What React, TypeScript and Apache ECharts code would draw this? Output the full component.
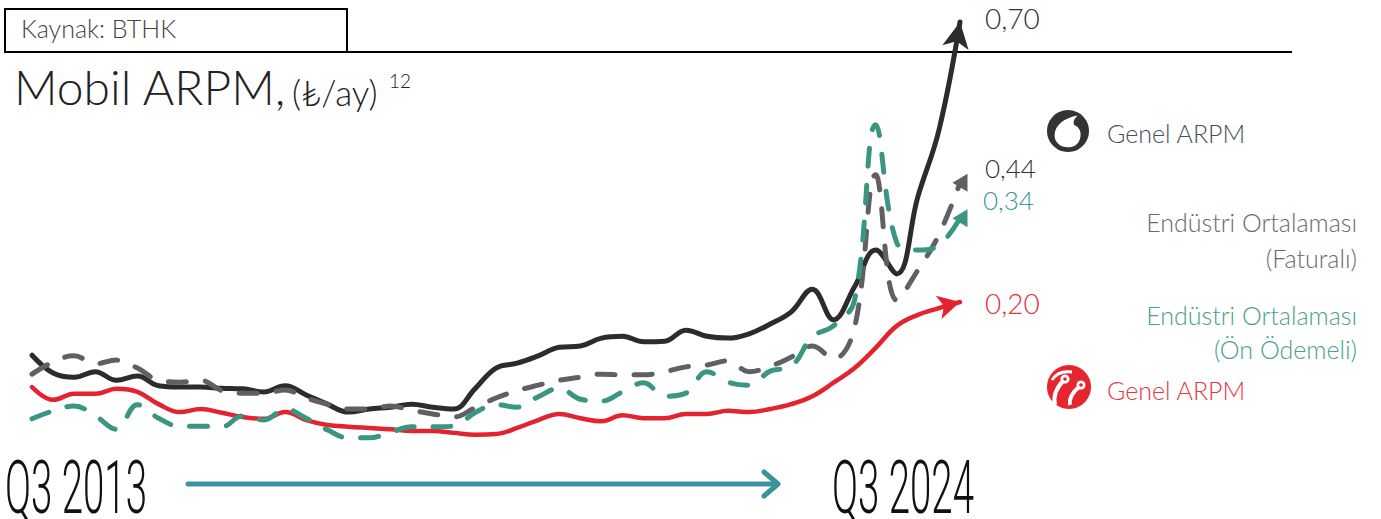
import React, { useEffect, useRef } from 'react';
import * as echarts from 'echarts';

const categories = [
  'Q3 2013', 'Q4 2013',
  'Q1 2014', 'Q2 2014', 'Q3 2014', 'Q4 2014',
  'Q1 2015', 'Q2 2015', 'Q3 2015', 'Q4 2015',
  'Q1 2016', 'Q2 2016', 'Q3 2016', 'Q4 2016',
  'Q1 2017', 'Q2 2017', 'Q3 2017', 'Q4 2017',
  'Q1 2018', 'Q2 2018', 'Q3 2018', 'Q4 2018',
  'Q1 2019', 'Q2 2019', 'Q3 2019', 'Q4 2019',
  'Q1 2020', 'Q2 2020', 'Q3 2020', 'Q4 2020',
  'Q1 2021', 'Q2 2021', 'Q3 2021', 'Q4 2021',
  'Q1 2022', 'Q2 2022', 'Q3 2022', 'Q4 2022',
  'Q1 2023', 'Q2 2023', 'Q3 2023', 'Q4 2023',
  'Q1 2024', 'Q2 2024', 'Q3 2024',
];

// Vodafone – Genel ARPM (₺/ay)
const vodafone = [
  0.155, 0.126, 0.119, 0.128, 0.114, 0.121, 0.105, 0.103, 0.103, 0.101,
  0.100, 0.095, 0.105, 0.090, 0.075, 0.062, 0.067, 0.070, 0.075, 0.070,
  0.067, 0.100, 0.134, 0.142, 0.154, 0.168, 0.170, 0.183, 0.186, 0.177,
  0.178, 0.196, 0.186, 0.183, 0.190, 0.206, 0.226, 0.263, 0.213, 0.267,
  0.327, 0.288, 0.414, 0.523, 0.700,
];

// Turkcell – Genel ARPM (₺/ay)
const turkcell = [
  0.103, 0.082, 0.092, 0.092, 0.100, 0.095, 0.075, 0.062, 0.067, 0.061,
  0.054, 0.051, 0.062, 0.049, 0.041, 0.038, 0.036, 0.034, 0.031, 0.031,
  0.028, 0.025, 0.026, 0.036, 0.049, 0.059, 0.052, 0.047, 0.057, 0.052,
  0.052, 0.059, 0.059, 0.064, 0.062, 0.067, 0.075, 0.088, 0.110, 0.134,
  0.167, 0.203, 0.221, 0.232, 0.242,
];

// Endüstri Ortalaması (Faturalı)
const postpaidAvg = [
  0.124, 0.144, 0.154, 0.141, 0.147, 0.134, 0.114, 0.111, 0.114, 0.097,
  0.093, 0.093, 0.098, 0.085, 0.075, 0.067, 0.067, 0.072, 0.065, 0.059,
  0.054, 0.069, 0.085, 0.097, 0.106, 0.114, 0.119, 0.124, 0.123, 0.123,
  0.128, 0.136, 0.139, 0.146, 0.128, 0.137, 0.152, 0.170, 0.149, 0.200,
  0.450, 0.245, 0.294, 0.352, 0.437,
];

// Endüstri Ortalaması (Ön Ödemeli)
const prepaidAvg = [
  0.051, 0.064, 0.072, 0.056, 0.034, 0.074, 0.052, 0.039, 0.039, 0.038,
  0.056, 0.049, 0.067, 0.052, 0.033, 0.020, 0.020, 0.029, 0.038, 0.038,
  0.039, 0.061, 0.074, 0.070, 0.087, 0.101, 0.083, 0.080, 0.095, 0.110,
  0.088, 0.093, 0.128, 0.111, 0.106, 0.129, 0.137, 0.185, 0.203, 0.245,
  0.532, 0.339, 0.327, 0.335, 0.379,
];

const endLabels = ['0,70', '0,44', '0,34', '0,20'];
const startLabel = 'Q3 2013';
const endLabel = 'Q3 2024';

const C_BLACK = '#2c2c2c';
const C_RED = '#e3242f';
const C_GRAY = '#606062';
const C_TEAL = '#3a9683';
const C_TEAL_BLUE = '#3b95a3';

const FONT = "Lato, 'Noto Sans', 'DejaVu Sans', sans-serif";

// Vodafone speech mark
echarts.graphic.registerShape(
  'vfMark',
  echarts.graphic.extendPath(
    'M -11 3 C -11 -6 -3 -12 8 -14 C 5 -11 4 -9 5 -6 C 10 -4 11 1 10 5 C 9 10 5 13 0 13 C -6 13 -11 9 -11 3 Z',
    {}
  )
);

function withEnd(values: number[], end: any) {
  return values.map((v, i) => (i === values.length - 1 ? { value: v, ...end } : v));
}

function txt(text: string, x: number, y: number, size: number, fill: string, align = 'left', lineHeight?: number) {
  return {
    type: 'text',
    x,
    y,
    style: {
      text,
      fill,
      font: `300 ${size}px ${FONT}`,
      lineHeight: lineHeight || Math.round(size * 1.2),
      align,
      textAlign: align,
      verticalAlign: 'middle',
      textVerticalAlign: 'middle',
    },
  };
}

function tallText(text: string, x: number, y: number) {
  return {
    type: 'text', x, y, scaleX: 0.62, scaleY: 1.21,
    style: {
      text, fill: '#111', font: `300 62px Roboto, ${FONT}`, lineHeight: 46,
      align: 'left', textAlign: 'left', verticalAlign: 'middle', textVerticalAlign: 'middle',
    },
  };
}

const dashed = [18, 19];

const option: any = {
  animation: false,
  backgroundColor: '#ffffff',
  grid: { left: 32, right: 421, top: 22, bottom: 69 },
  xAxis: { type: 'category', data: categories, boundaryGap: false, show: false },
  yAxis: { type: 'value', min: 0, max: 0.7, show: false },
  series: [
    {
      name: 'Vodafone Genel ARPM',
      type: 'line',
      data: withEnd(vodafone, { symbol: 'arrow', symbolSize: [20, 26], symbolRotate: -10 }),
      smooth: 0.4,
      symbol: 'none',
      showSymbol: true,
      showAllSymbol: true,
      clip: false,
      z: 2,
      lineStyle: { color: C_BLACK, width: 5, cap: 'round', join: 'round' },
      itemStyle: { color: C_BLACK },
    },
    {
      name: 'Turkcell Genel ARPM',
      type: 'line',
      data: withEnd(turkcell, { symbol: 'arrow', symbolSize: [18, 22], symbolRotate: -76 }),
      smooth: 0.4,
      symbol: 'none',
      showSymbol: true,
      showAllSymbol: true,
      clip: false,
      z: 2,
      lineStyle: { color: C_RED, width: 4.5, cap: 'round', join: 'round' },
      itemStyle: { color: C_RED },
    },
    {
      name: 'Endüstri Ortalaması (Faturalı)',
      type: 'line',
      data: withEnd(postpaidAvg, { symbol: 'triangle', symbolSize: [18, 15], symbolRotate: 90 }),
      smooth: 0.4,
      symbol: 'none',
      showSymbol: true,
      showAllSymbol: true,
      clip: false,
      z: 3,
      lineStyle: { color: C_GRAY, width: 5, type: dashed, cap: 'round', join: 'round' },
      itemStyle: { color: C_GRAY },
    },
    {
      name: 'Endüstri Ortalaması (Ön Ödemeli)',
      type: 'line',
      data: withEnd(prepaidAvg, { symbol: 'triangle', symbolSize: [18, 15], symbolRotate: 90 }),
      smooth: 0.4,
      symbol: 'none',
      showSymbol: true,
      showAllSymbol: true,
      clip: false,
      z: 4,
      lineStyle: { color: C_TEAL, width: 5, type: dashed, cap: 'round', join: 'round' },
      itemStyle: { color: C_TEAL },
    },
  ],
  graphic: [
    // source box & rule
    { type: 'rect', shape: { x: 5, y: 9, width: 342, height: 43 }, style: { fill: 'none', stroke: '#000', lineWidth: 2 } },
    { type: 'line', shape: { x1: 347, y1: 52, x2: 1292, y2: 52 }, style: { stroke: '#000', lineWidth: 2 } },
    txt('Kaynak: BTHK', 21, 28, 25, '#444444'),
    // title
    txt('Mobil ARPM,', 14, 86, 48, '#222222'),
    txt('(₺/ay)', 292, 92, 35, '#222222'),
    txt('12', 389, 80, 19, '#222222'),
    // end values
    txt(endLabels[0], 985, 18, 28, '#333333', 'left', 26),
    txt(endLabels[1], 985, 168, 26, '#333333', 'left', 24),
    txt(endLabels[2], 983, 200, 26, C_TEAL_BLUE, 'left', 24),
    txt(endLabels[3], 985, 303, 28, '#e8323c', 'left', 26),
    // legend: Vodafone
    { type: 'circle', shape: { cx: 1068, cy: 131, r: 21 }, style: { fill: '#333333' } },
    { type: 'vfMark', x: 1068, y: 132, scaleX: 1.22, scaleY: 1.18, style: { fill: '#ffffff' } },
    txt('Genel ARPM', 1107, 133, 25, '#4b4f58'),
    txt('Endüstri Ortalaması', 1357, 222, 25, '#6a6a6a', 'right'),
    txt('(Faturalı)', 1357, 258, 25, '#6a6a6a', 'right'),
    txt('Endüstri Ortalaması', 1357, 315, 25, '#4aa08b', 'right'),
    txt('(Ön Ödemeli)', 1357, 349, 25, '#4aa08b', 'right'),
    // legend: Turkcell
    { type: 'circle', shape: { cx: 1069, cy: 387, r: 22 }, style: { fill: '#e5262f' } },
    { type: 'bezierCurve', shape: { x1: 1055, y1: 405, cpx1: 1052, cpy1: 392, x2: 1064, y2: 380 }, style: { stroke: '#fff', lineWidth: 4, fill: 'none' } },
    { type: 'bezierCurve', shape: { x1: 1070, y1: 405, cpx1: 1068, cpy1: 396, x2: 1080, y2: 386 }, style: { stroke: '#fff', lineWidth: 4, fill: 'none' } },
    { type: 'bezierCurve', shape: { x1: 1052, y1: 380, cpx1: 1058, cpy1: 370, x2: 1072, y2: 372 }, style: { stroke: '#fff', lineWidth: 3, fill: 'none' } },
    { type: 'circle', shape: { cx: 1065, cy: 379, r: 4.5 }, style: { fill: '#fff' } },
    { type: 'circle', shape: { cx: 1065, cy: 379, r: 1.8 }, style: { fill: '#e5262f' } },
    { type: 'circle', shape: { cx: 1081, cy: 385, r: 4.5 }, style: { fill: '#fff' } },
    { type: 'circle', shape: { cx: 1081, cy: 385, r: 1.8 }, style: { fill: '#e5262f' } },
    txt('Genel ARPM', 1107, 390, 25, '#e8363f'),
    // timeline
    tallText(startLabel, 5, 488),
    tallText(endLabel, 832, 488),
    { type: 'line', shape: { x1: 188, y1: 484, x2: 776, y2: 484 }, style: { stroke: '#3b929f', lineWidth: 5, lineCap: 'round' } },
    {
      type: 'polyline',
      shape: { points: [[764, 472], [778, 484], [764, 496]] },
      style: { stroke: '#3b929f', lineWidth: 5, lineCap: 'round', lineJoin: 'round', fill: 'none' },
    },
  ],
};

export default function App() {
  const ref = useRef<HTMLDivElement>(null);
  useEffect(() => {
    if (!ref.current) return;
    const chart = echarts.init(ref.current, null, { renderer: 'svg' });
    chart.setOption(option);
    return () => chart.dispose();
  }, []);
  return (
    <div
      ref={ref}
      style={{ position: 'fixed', left: 0, top: 0, width: 1381, height: 519, background: '#fff' }}
    />
  );
}
